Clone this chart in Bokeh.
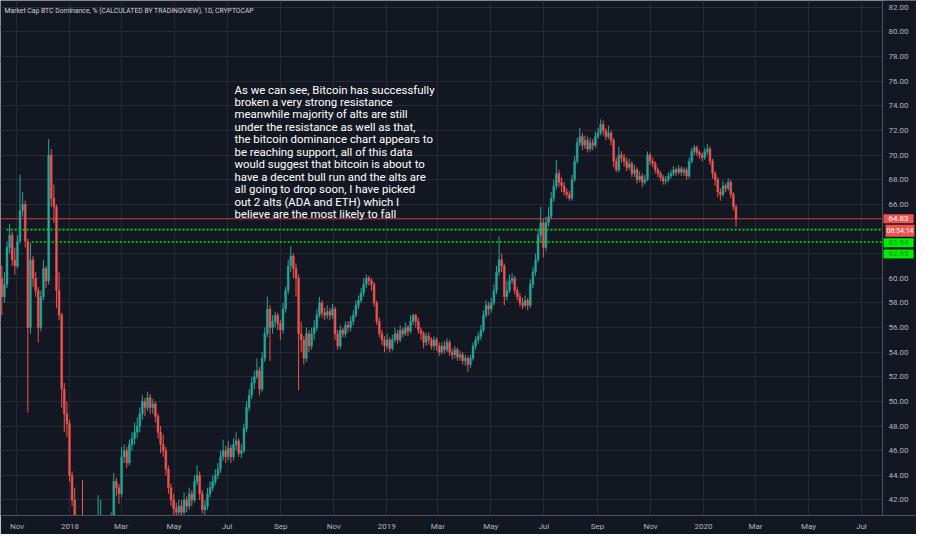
import pandas as pd
from bokeh.plotting import figure
from bokeh.models import (Label, FixedTicker, ColumnDataSource, NumeralTickFormatter,
                          BoxAnnotation, Span)
from bokeh.embed import file_html
from bokeh.resources import INLINE

# ---------------- data ----------------
origin = "2017-10-13"
period_days = 3
first_open = 60.0

closes = [
    58.5, 59.5, 62.5, 63.5, 61.5, 61.0, 63.0, 65.5, 66.0, 63.0,
    56.0, 61.5, 60.0, 59.0, 56.0, 58.5, 60.8, 59.8, 70.0, 66.5,
    65.8, 59.0, 57.0, 51.0, 49.0, 48.2, 44.0, 42.0, 40.0, 39.0,
    38.5, 38.0, 37.5, 37.0, 36.5, 36.0, 35.5, 36.0, 37.0, 37.5,
    38.0, 39.0, 40.5, 43.5, 43.0, 42.5, 45.5, 46.0, 45.0, 46.5,
    47.0, 47.5, 48.0, 49.0, 50.0, 49.5, 50.3, 49.5, 49.8, 48.8,
    47.5, 46.5, 46.0, 44.5, 43.0, 42.0, 41.3, 41.0, 41.5, 41.0,
    42.0, 41.5, 42.5, 42.0, 43.5, 44.0, 42.5, 41.2, 41.5, 42.5,
    43.0, 43.5, 44.0, 44.5, 45.5, 46.0, 45.5, 46.2, 45.5, 46.5,
    46.8, 45.8, 46.0, 47.8, 49.5, 50.5, 51.5, 52.0, 52.5, 51.0,
    53.5, 55.5, 57.5, 56.0, 56.5, 57.0, 56.3, 55.8, 57.5, 59.0,
    61.0, 61.8, 60.8, 60.0, 55.5, 55.0, 53.5, 55.5, 54.5, 55.5,
    56.0, 57.0, 58.0, 57.2, 57.0, 57.3, 57.0, 57.5, 55.5, 54.5,
    55.8, 55.5, 56.2, 56.0, 56.5, 57.0, 57.8, 58.2, 58.8, 59.5,
    60.0, 59.8, 59.5, 58.0, 56.5, 55.5, 55.0, 54.5, 55.0, 54.3,
    55.0, 55.5, 55.0, 55.8, 55.5, 56.0, 55.7, 56.5, 57.0, 56.5,
    55.8, 55.5, 54.8, 55.3, 55.0, 54.5, 55.0, 54.5, 54.0, 54.5,
    54.2, 54.8, 54.0, 53.8, 54.2, 53.6, 53.8, 53.3, 53.5, 53.0,
    53.5, 54.5, 55.0, 55.3, 55.8, 57.0, 57.8, 57.5, 58.0, 59.0,
    60.5, 61.5, 61.0, 58.5, 59.0, 59.8, 60.0, 59.0, 58.5, 58.0,
    57.8, 58.2, 57.8, 59.5, 60.5, 61.5, 63.5, 64.5, 62.5, 64.5,
    65.0, 66.5, 67.5, 68.5, 67.8, 67.5, 67.0, 66.8, 66.5, 68.0,
    69.5, 71.0, 71.5, 70.8, 71.2, 70.5, 71.0, 70.8, 71.5, 71.8,
    72.5, 72.0, 71.5, 71.8, 71.2, 69.5, 68.8, 70.0, 69.8, 69.5,
    69.0, 69.3, 68.5, 68.8, 68.0, 68.3, 67.8, 68.0, 70.0, 69.5,
    69.3, 68.8, 68.5, 68.2, 67.9, 68.0, 68.3, 68.5, 68.8, 68.6,
    68.9, 68.6, 68.8, 68.3, 69.5, 70.3, 70.6, 70.2, 70.0, 69.8,
    70.3, 70.5, 69.5, 68.5, 68.0, 67.0, 66.8, 67.5, 67.3, 67.8,
    66.8, 65.8, 64.83,
]

highs = [
    61.0, 60.5, 63.0, 64.4, 63.8, 62.5, 63.5, 68.4, 67.0, 66.3,
    63.2, 62.9, 61.8, 60.5, 59.3, 59.0, 61.5, 61.0, 71.3, 70.5,
    67.6, 66.0, 60.5, 57.2, 51.5, 50.0, 48.5, 44.3, 43.0, 40.3,
    39.5, 43.6, 38.5, 38.0, 37.5, 37.0, 36.5, 42.4, 42.0, 38.5,
    39.0, 39.8, 41.0, 44.2, 43.8, 43.3, 46.3, 46.5, 46.3, 46.9,
    47.5, 48.3, 48.7, 49.5, 50.5, 50.3, 50.8, 50.6, 50.2, 50.0,
    49.0, 48.0, 47.3, 46.3, 44.8, 43.3, 42.5, 41.8, 42.0, 42.0,
    42.6, 42.3, 43.0, 42.8, 44.0, 44.8, 44.3, 42.8, 42.0, 43.0,
    43.5, 44.0, 44.5, 45.0, 46.0, 46.9, 46.4, 46.8, 46.5, 47.0,
    47.5, 47.0, 46.5, 48.2, 50.0, 51.0, 52.0, 52.5, 53.5, 52.8,
    54.0, 56.0, 58.5, 57.8, 57.0, 57.3, 57.2, 56.6, 58.0, 59.3,
    61.5, 62.6, 62.0, 61.2, 60.3, 56.5, 55.3, 56.0, 55.8, 56.0,
    56.6, 57.5, 58.5, 58.2, 57.6, 57.8, 57.6, 57.9, 57.7, 55.8,
    56.2, 56.0, 56.5, 56.5, 56.9, 57.4, 58.2, 58.6, 59.2, 60.0,
    60.3, 60.2, 60.0, 59.7, 58.2, 56.8, 55.8, 55.3, 55.5, 55.2,
    55.4, 56.0, 55.8, 56.2, 56.0, 56.4, 56.2, 57.0, 57.1, 57.1,
    56.8, 56.0, 55.7, 55.6, 55.6, 55.2, 55.3, 55.2, 54.8, 54.8,
    54.9, 55.1, 55.0, 54.3, 54.5, 54.4, 54.1, 54.0, 53.8, 53.7,
    53.8, 54.8, 55.3, 55.6, 56.2, 57.4, 58.2, 58.1, 58.4, 59.5,
    61.0, 63.4, 62.0, 61.2, 59.8, 60.3, 60.4, 60.2, 59.3, 58.8,
    58.4, 58.6, 58.4, 59.9, 60.9, 62.0, 64.0, 65.8, 64.8, 65.0,
    65.8, 67.0, 68.0, 69.6, 68.8, 68.2, 67.8, 67.3, 67.1, 68.4,
    69.9, 71.4, 72.2, 71.8, 71.6, 71.5, 71.4, 71.3, 71.9, 72.2,
    72.9, 72.8, 72.2, 72.4, 72.0, 71.4, 69.8, 70.7, 70.3, 70.1,
    69.8, 69.7, 69.5, 69.2, 69.0, 68.7, 68.5, 68.4, 70.3, 70.2,
    69.8, 69.5, 69.0, 68.7, 68.4, 68.3, 68.6, 68.8, 69.1, 69.0,
    69.2, 69.1, 69.0, 69.0, 69.8, 70.6, 70.8, 70.8, 70.4, 70.2,
    70.6, 70.9, 70.7, 69.7, 68.7, 68.2, 67.3, 67.9, 67.7, 68.1,
    68.0, 67.0, 66.0,
]

lows = [
    57.0, 58.0, 59.2, 62.0, 61.0, 60.3, 60.8, 62.8, 65.0, 62.5,
    49.1, 55.5, 59.3, 58.5, 54.8, 55.7, 58.2, 59.2, 59.5, 65.8,
    64.5, 57.6, 56.6, 49.5, 47.5, 47.1, 43.5, 41.5, 39.0, 38.0,
    37.5, 37.0, 36.5, 36.0, 35.5, 35.0, 34.5, 35.0, 35.5, 36.5,
    37.0, 37.5, 38.5, 40.2, 42.3, 41.7, 42.2, 45.0, 44.6, 44.8,
    46.0, 46.5, 47.0, 47.5, 48.5, 48.8, 49.2, 49.0, 49.0, 48.3,
    47.0, 45.8, 45.5, 44.0, 42.5, 41.5, 40.8, 40.3, 40.6, 40.5,
    40.8, 41.0, 41.2, 41.5, 41.8, 43.2, 42.0, 40.9, 40.8, 41.2,
    42.2, 42.7, 43.2, 43.7, 44.2, 45.2, 45.0, 45.2, 45.0, 45.2,
    46.0, 45.5, 45.4, 45.8, 47.5, 49.2, 50.2, 51.0, 51.8, 50.5,
    50.8, 53.2, 55.2, 53.3, 55.5, 56.0, 55.8, 55.0, 55.5, 57.2,
    58.7, 60.5, 60.0, 58.5, 50.9, 54.0, 53.0, 53.2, 54.0, 54.2,
    55.0, 55.7, 56.8, 56.8, 56.6, 56.7, 56.6, 56.7, 55.0, 54.2,
    54.3, 55.2, 55.2, 55.6, 55.7, 56.2, 56.8, 57.5, 58.0, 58.5,
    59.2, 59.4, 59.0, 57.7, 56.2, 55.2, 54.6, 54.0, 54.2, 54.0,
    54.1, 54.8, 54.7, 54.8, 55.2, 55.3, 55.3, 55.5, 56.2, 56.0,
    55.5, 55.0, 54.3, 54.5, 54.6, 54.2, 54.2, 54.1, 53.7, 53.8,
    53.9, 54.0, 53.7, 53.4, 53.5, 53.3, 53.3, 53.0, 52.9, 52.4,
    52.7, 53.3, 54.2, 54.7, 55.0, 55.6, 56.8, 57.0, 57.2, 57.8,
    58.7, 60.2, 60.5, 57.8, 58.2, 58.8, 59.5, 58.7, 58.2, 57.7,
    57.5, 57.6, 57.4, 57.6, 59.2, 60.2, 61.3, 63.0, 61.7, 62.2,
    64.2, 64.8, 66.2, 67.2, 67.4, 67.0, 66.7, 66.5, 66.3, 66.3,
    67.8, 69.3, 70.7, 70.4, 70.5, 70.2, 70.3, 70.4, 70.6, 71.3,
    71.6, 71.6, 71.2, 71.3, 70.8, 69.0, 68.6, 68.6, 69.4, 69.1,
    68.7, 68.8, 68.2, 68.2, 67.7, 67.8, 67.4, 67.6, 67.9, 69.2,
    69.0, 68.5, 68.2, 67.9, 67.6, 67.6, 67.8, 68.1, 68.3, 68.3,
    68.4, 68.3, 68.3, 68.0, 68.1, 69.3, 70.0, 69.9, 69.7, 69.5,
    69.6, 70.0, 69.2, 68.1, 67.5, 66.6, 66.3, 66.6, 67.0, 67.1,
    66.5, 65.5, 64.2,
]

tick_dates = ["2017-11-01", "2018-01-01", "2018-03-01", "2018-05-01", "2018-07-01",
              "2018-09-01", "2018-11-01", "2019-01-01", "2019-03-01", "2019-05-01",
              "2019-07-01", "2019-09-01", "2019-11-01", "2020-01-01", "2020-03-01",
              "2020-05-01", "2020-07-01"]
tick_labels = ["Nov", "2018", "Mar", "May", "Jul", "Sep", "Nov", "2019", "Mar",
               "May", "Jul", "Sep", "Nov", "2020", "Mar", "May", "Jul"]
y_ticks = list(range(42, 83, 2))

support_levels = [63.94, 62.95]
support_starts = ["2017-10-20", "2017-11-18"]
countdown = "06:54:14"
view_end = "2020-07-25"
view_low, view_high = 40.74, 82.55

title_text = "Market Cap BTC Dominance, % (CALCULATED BY TRADINGVIEW), 1D, CRYPTOCAP"
note_text = ("As we can see, Bitcoin has successfully\n"
             "broken a very strong resistance\n"
             "meanwhile majority of alts are still\n"
             "under the resistance as well as that,\n"
             "the bitcoin dominance chart appears to\n"
             "be reaching support, all of this data\n"
             "would suggest that bitcoin is about to\n"
             "have a decent bull run and the alts are\n"
             "all going to drop soon, I have picked\n"
             "out 2 alts (ADA and ETH) which I\n"
             "believe are the most likely to fall")

# ---------------- layout / styles ----------------
W, H = 916, 534
CHART_W = 882          # chart area; the rest is the price-scale strip
BOTTOM = 19
BG = "#131722"
GRID = "#262a35"
UP = "#26a69a"
DOWN = "#ef5350"
AXIS_LINE = "#50535e"
AXIS_TXT = "#b2b5be"
FONT = "Roboto, sans-serif"

o0 = pd.Timestamp(origin)
def day(d):
    return (pd.Timestamp(d) - o0).days

end_day = day(view_end) + 0.3
x_end = end_day * W / CHART_W   # frame spans the price-scale strip too

opens = [first_open] + closes[:-1]
xs = [i * period_days + period_days / 2 for i in range(len(closes))]
colors = [UP if c >= o else DOWN for o, c in zip(opens, closes)]
src = ColumnDataSource(dict(
    x=xs, high=highs, low=lows,
    top=[max(o, c) for o, c in zip(opens, closes)],
    bottom=[min(o, c) for o, c in zip(opens, closes)],
    color=colors,
))

p = figure(width=W, height=H, output_backend="svg", toolbar_location=None,
           x_range=(0, x_end), y_range=(view_low, view_high),
           y_axis_location="right", min_border_left=0, min_border_top=0,
           min_border_right=0, min_border_bottom=BOTTOM)
p.background_fill_color = BG
p.border_fill_color = BG
p.outline_line_color = None

tick_pos = [day(d) for d in tick_dates]
p.xaxis.ticker = FixedTicker(ticks=tick_pos)
p.xaxis.major_label_overrides = {t: l for t, l in zip(tick_pos, tick_labels)}
p.yaxis.ticker = FixedTicker(ticks=y_ticks)
p.yaxis.formatter = NumeralTickFormatter(format="0.00")
p.xgrid.ticker = FixedTicker(ticks=tick_pos)
p.ygrid.ticker = FixedTicker(ticks=y_ticks)
p.grid.grid_line_color = GRID
p.grid.grid_line_width = 1

for ax in (p.xaxis, p.yaxis):
    ax.axis_line_color = AXIS_LINE
    ax.major_tick_line_color = None
    ax.minor_tick_line_color = None
    ax.major_label_text_color = AXIS_TXT
    ax.major_label_text_font = FONT
    ax.major_label_text_font_size = "8px"
p.xaxis.major_tick_out = 0
p.xaxis.major_tick_in = 0
p.xaxis.major_label_standoff = 6
# the price scale is drawn inside the strip at the right of the chart area
p.yaxis.major_tick_out = 0
p.yaxis.major_tick_in = 0
p.yaxis.axis_line_color = None
p.yaxis.major_label_standoff = -(W - CHART_W) + 6

# price-scale strip: hide grid behind it and draw its border line
p.add_layout(BoxAnnotation(left=end_day, fill_color=BG, fill_alpha=1.0,
                           line_color=None, level="underlay"))
p.add_layout(Span(location=end_day, dimension="height", line_color=AXIS_LINE,
                  line_width=1))

# candles
p.segment(x0="x", x1="x", y0="low", y1="high", color="color", line_width=1, source=src)
p.vbar(x="x", width=period_days * 0.7, top="top", bottom="bottom",
       fill_color="color", line_color="color", line_width=0.5, source=src)

# last price line
p.segment(x0=[0], x1=[end_day], y0=[closes[-1]], y1=[closes[-1]],
          line_color=DOWN, line_alpha=0.75, line_width=1)

# support lines (dotted green)
p.segment(x0=[day(d) for d in support_starts], x1=[end_day] * len(support_levels),
          y0=support_levels, y1=support_levels,
          line_color="#00e600", line_width=1.6, line_dash="2 2")

# title
p.add_layout(Label(x=4, y=H - BOTTOM - 6, x_units="screen", y_units="screen",
                   text=title_text, text_color="#d1d4dc", text_font=FONT,
                   text_font_size="6.8px", text_baseline="top"))

# note
p.add_layout(Label(x=234, y=H - BOTTOM - 82, x_units="screen", y_units="screen",
                   text=note_text, text_color="#ffffff", text_font=FONT,
                   text_font_size="11.4px", text_line_height=0.89,
                   text_baseline="top"))

# price tags in the strip
p.add_layout(Label(x=CHART_W + 1, y=closes[-1], x_units="screen", y_units="data",
                   text=f"{closes[-1]:.2f}", text_color="#ffffff", text_font=FONT,
                   text_font_size="8px", text_baseline="middle",
                   background_fill_color=DOWN,
                   padding=dict(left=5, right=5, top=2, bottom=2)))
p.add_layout(Label(x=CHART_W + 3, y=closes[-1], y_offset=-12, x_units="screen",
                   y_units="data", text=countdown, text_color="#ffffff", text_font=FONT,
                   text_font_size="7px", text_baseline="middle",
                   background_fill_color=DOWN,
                   padding=dict(left=1, right=1, top=2, bottom=2)))
for lvl, off in zip(support_levels, [-13, -12]):
    p.add_layout(Label(x=CHART_W + 1, y=lvl, y_offset=off, x_units="screen",
                       y_units="data", text=f"{lvl:.2f}", text_color="#128a12",
                       text_font=FONT, text_font_size="8px", text_baseline="middle",
                       background_fill_color="#00f000",
                       padding=dict(left=5, right=5, top=2, bottom=2)))

open("out.html", "w").write(file_html(p, INLINE))
